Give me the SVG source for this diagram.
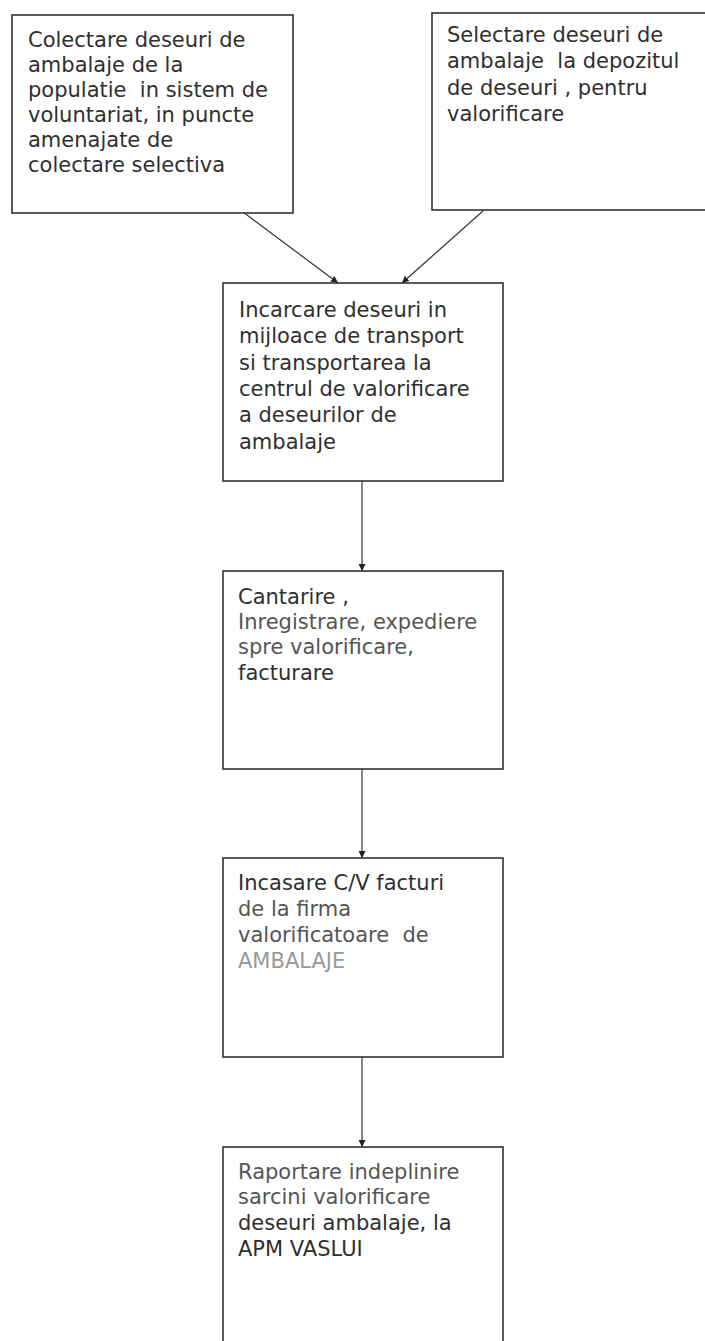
<svg xmlns="http://www.w3.org/2000/svg" width="705" height="1341" viewBox="0 0 705 1341">
<style>
.box{fill:#fff;stroke:#333;stroke-width:1.6}
.t{font-family:"DejaVu Sans","Liberation Sans",sans-serif;font-size:21px;fill:#2f2f2f;white-space:pre}
.l{fill:#555}
.vl{fill:#999}
.c{fill:none;stroke:#333;stroke-width:1.2}
</style>
<defs>
<marker id="ah" viewBox="0 0 10 10" refX="10" refY="5" markerWidth="7" markerHeight="7" markerUnits="userSpaceOnUse" orient="auto">
<path d="M0,0 L10,5 L0,10 z" fill="#222"/>
</marker>
</defs>
<rect width="705" height="1341" fill="#fff"/>
<g id="connectors">
<line class="c" x1="243" y1="212" x2="338" y2="283" marker-end="url(#ah)"/>
<line class="c" x1="483" y1="211" x2="402" y2="283" marker-end="url(#ah)"/>
<line class="c" x1="362" y1="481" x2="362" y2="571" marker-end="url(#ah)"/>
<line class="c" x1="362" y1="769" x2="362" y2="858" marker-end="url(#ah)"/>
<line class="c" x1="362" y1="1057" x2="362" y2="1147" marker-end="url(#ah)"/>
</g>
<g id="n1">
<rect class="box" x="12" y="15" width="281" height="198"/>
<text class="t" x="28" y="47">Colectare deseuri de</text>
<text class="t" x="28" y="72">ambalaje de la</text>
<text class="t" x="28" y="97">populatie  in sistem de</text>
<text class="t" x="28" y="122">voluntariat, in puncte</text>
<text class="t" x="28" y="147">amenajate de</text>
<text class="t" x="28" y="172">colectare selectiva</text>
</g>
<g id="n2">
<rect class="box" x="432" y="13" width="290" height="197"/>
<text class="t" x="447" y="42">Selectare deseuri de</text>
<text class="t" x="447" y="68">ambalaje  la depozitul</text>
<text class="t" x="447" y="95">de deseuri , pentru</text>
<text class="t" x="447" y="121">valorificare</text>
</g>
<g id="n3">
<rect class="box" x="223" y="283" width="280" height="198"/>
<text class="t" x="239" y="317">Incarcare deseuri in</text>
<text class="t" x="239" y="343">mijloace de transport</text>
<text class="t" x="239" y="370">si transportarea la</text>
<text class="t" x="239" y="396">centrul de valorificare</text>
<text class="t" x="239" y="422">a deseurilor de</text>
<text class="t" x="239" y="449">ambalaje</text>
</g>
<g id="n4">
<rect class="box" x="223" y="571" width="280" height="198"/>
<text class="t" x="238" y="604">Cantarire ,</text>
<text class="t l" x="238" y="629">Inregistrare, expediere</text>
<text class="t l" x="238" y="654">spre valorificare,</text>
<text class="t" x="238" y="680">facturare</text>
</g>
<g id="n5">
<rect class="box" x="223" y="858" width="280" height="199"/>
<text class="t" x="238" y="890">Incasare C/V facturi</text>
<text class="t l" x="238" y="916">de la firma</text>
<text class="t l" x="238" y="942">valorificatoare  de</text>
<text class="t vl" x="238" y="968">AMBALAJE</text>
</g>
<g id="n6">
<rect class="box" x="223" y="1147" width="280" height="210"/>
<text class="t l" x="238" y="1179">Raportare indeplinire</text>
<text class="t l" x="238" y="1204">sarcini valorificare</text>
<text class="t" x="238" y="1230">deseuri ambalaje, la</text>
<text class="t" x="238" y="1256">APM VASLUI</text>
</g>
</svg>
